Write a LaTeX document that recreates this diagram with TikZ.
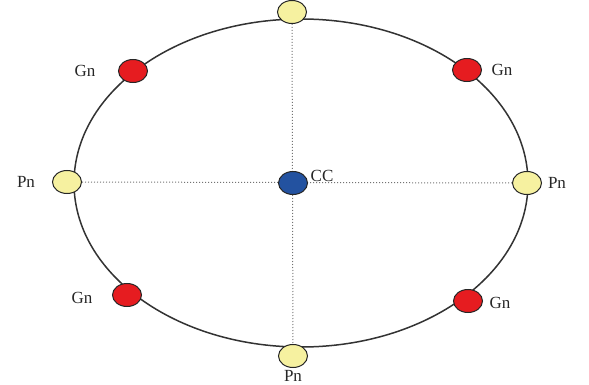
\documentclass[tikz,border=0pt]{standalone}
\usepackage{fontspec}
\setmainfont{Liberation Serif}
\usepackage{xcolor}
\usepackage{tikz}
\usetikzlibrary{shapes.geometric,backgrounds}
\definecolor{pnyellow}{RGB}{246,241,160}
\definecolor{gnred}{RGB}{230,28,32}
\definecolor{ccblue}{RGB}{35,82,160}

\begin{document}
\begin{tikzpicture}[x=1pt, y=-1pt, node distance=40pt,
    every node/.style={font=\fontsize{17}{20}\selectfont, text=black!85},
    site/.style={draw=black!85, line width=1pt, ellipse, minimum width=29pt, minimum height=23pt, inner sep=0pt},
    pn/.style={site, fill=pnyellow},
    gn/.style={site, fill=gnred},
    cc/.style={site, fill=ccblue},
    guide/.style={black!55, dotted, line width=1pt}]
    \useasboundingbox (0,0) rectangle (589,385);
    \node[pn] (pnN) at (292,12) {};
    \node[pn] (pnS) at (293,356) {};
    \node[pn] (pnW) at (67,182) {};
    \node[pn] (pnE) at (527,183) {};
    \node[cc] (cc) at (293,183) {};
    \node[gn] (gnTL) at (133,71) {};
    \node[gn] (gnTR) at (467,70) {};
    \node[gn] (gnBL) at (127,295) {};
    \node[gn] (gnBR) at (468,301) {};
    \node (gnTLtext) [left of=gnTL, xshift=-8pt] {Gn};
    \node (gnTRtext) [right of=gnTR, xshift=-5pt] {Gn};
    \node (gnBLtext) [left of=gnBL, xshift=-5pt, yshift=-3pt] {Gn};
    \node (gnBRtext) [right of=gnBR, xshift=-8pt, yshift=-2pt] {Gn};
    \node (pnWtext) [left of=pnW, xshift=-1pt] {Pn};
    \node (pnEtext) [right of=pnE, xshift=-10pt] {Pn};
    \node (pnStext) [below of=pnS, yshift=20pt] {Pn};
    \node (cctext) [right of=cc, xshift=-11pt, yshift=7pt] {CC};
    \begin{scope}[on background layer]
        \draw[black!80, line width=1.5pt] (301,183) ellipse [x radius=227pt, y radius=164pt];
        \draw[guide] (pnW) -- (pnE);
        \draw[guide] (pnN) -- (pnS);
    \end{scope}
\end{tikzpicture}
\end{document}
